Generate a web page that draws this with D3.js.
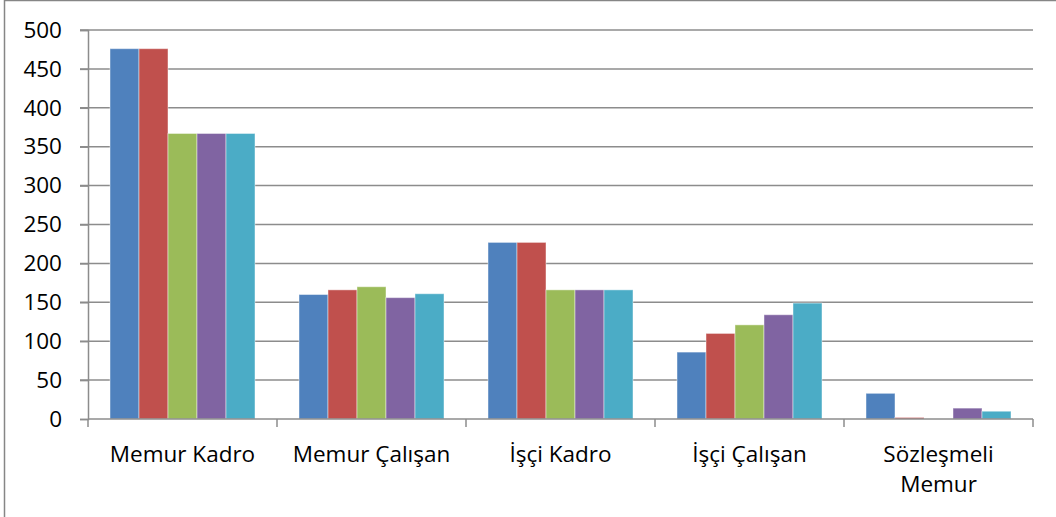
<!DOCTYPE html>
<html>
<head>
<meta charset="utf-8">
<script src="https://cdn.jsdelivr.net/npm/d3@7"></script>
<style>
  body { margin: 0; background: #fff; }
  svg { display: block; }
  text { font-family: "Open Sans", sans-serif; fill: #000; }
</style>
</head>
<body>
<svg id="chart"></svg>
<script>
const categories = ["Memur Kadro", "Memur Çalışan", "İşçi Kadro", "İşçi Çalışan", "Sözleşmeli Memur"];
const series1 = [476, 160, 227, 86, 33];
const series2 = [476, 166, 227, 110, 2];
const series3 = [367, 170, 166, 121, 0];
const series4 = [367, 156, 166, 134, 14];
const series5 = [367, 161, 166, 149, 10];
const yTicks = [0, 50, 100, 150, 200, 250, 300, 350, 400, 450, 500];
const colors = ["#4F81BD", "#C0504D", "#9BBB59", "#8064A2", "#4BACC6"];

const allSeries = [series1, series2, series3, series4, series5];
const width = 1056, height = 517;
const plotLeft = 88, plotRight = 1033, plotTop = 30, plotBottom = 419;
const fontSize = "22.5px";

const svg = d3.select("#chart").attr("width", width).attr("height", height);

// chart frame
svg.append("rect")
  .attr("x", 4.5).attr("y", 0.5)
  .attr("width", 1100).attr("height", 600)
  .attr("fill", "none").attr("stroke", "#868686").attr("stroke-width", 1.5);

const y = d3.scaleLinear().domain([0, 500]).range([plotBottom, plotTop]);
const x0 = d3.scaleBand().domain(categories).range([plotLeft, plotRight]);
const x1 = d3.scaleBand().domain(d3.range(allSeries.length))
  .range([22, x0.bandwidth() - 22]);

// grid lines
svg.append("g").selectAll("line")
  .data(yTicks.filter(d => d > 0))
  .join("line")
  .attr("x1", plotLeft - 8).attr("x2", plotRight)
  .attr("y1", d => y(d)).attr("y2", d => y(d))
  .attr("stroke", "#8c8c8c").attr("stroke-width", 1.5);

// bars
const groups = svg.append("g").selectAll("g")
  .data(categories)
  .join("g")
  .attr("transform", c => `translate(${x0(c)},0)`);

groups.selectAll("rect")
  .data((c, ci) => allSeries.map((s, si) => ({ si, v: s[ci] })))
  .join("rect")
  .attr("x", d => x1(d.si))
  .attr("width", x1.bandwidth())
  .attr("y", d => y(d.v))
  .attr("height", d => y(0) - y(d.v))
  .attr("fill", d => colors[d.si])
  .attr("stroke", "rgba(255,255,255,0.45)")
  .attr("stroke-width", 1);

// y axis
const yAxis = d3.axisLeft(y).tickValues(yTicks).tickSize(8).tickPadding(18);
const gy = svg.append("g").attr("transform", `translate(${plotLeft},0)`).call(yAxis);
gy.select(".domain").attr("stroke", "#8c8c8c").attr("stroke-width", 1.5);
gy.selectAll(".tick line").attr("stroke", "#8c8c8c").attr("stroke-width", 1.5);
gy.selectAll(".tick text").style("font-size", fontSize).style("font-family", "'Open Sans', sans-serif").attr("fill", "#000");

// x axis
const xAxis = d3.axisBottom(x0).tickSize(0).tickFormat("");
const gx = svg.append("g").attr("transform", `translate(0,${plotBottom})`).call(xAxis);
gx.select(".domain").attr("stroke", "#8c8c8c").attr("stroke-width", 1.5)
  .attr("d", `M${plotLeft},0H${plotRight}`);
gx.selectAll(".cat-tick")
  .data([plotLeft].concat(categories.map(c => x0(c) + x0.bandwidth())))
  .join("line")
  .attr("x1", d => d).attr("x2", d => d)
  .attr("y1", 0).attr("y2", 8)
  .attr("stroke", "#8c8c8c").attr("stroke-width", 1.5);

// category labels, wrapped like the original
const labelLines = { "Sözleşmeli Memur": ["Sözleşmeli", "Memur"] };
svg.append("g").selectAll("text")
  .data(categories)
  .join("text")
  .attr("text-anchor", "middle")
  .style("font-size", fontSize)
  .attr("x", c => x0(c) + x0.bandwidth() / 2)
  .attr("y", 462)
  .each(function (c) {
    const lines = labelLines[c] || [c];
    d3.select(this).selectAll("tspan")
      .data(lines)
      .join("tspan")
      .attr("x", x0(c) + x0.bandwidth() / 2)
      .attr("dy", (d, i) => i === 0 ? 0 : 30)
      .text(d => d);
  });
</script>
</body>
</html>
